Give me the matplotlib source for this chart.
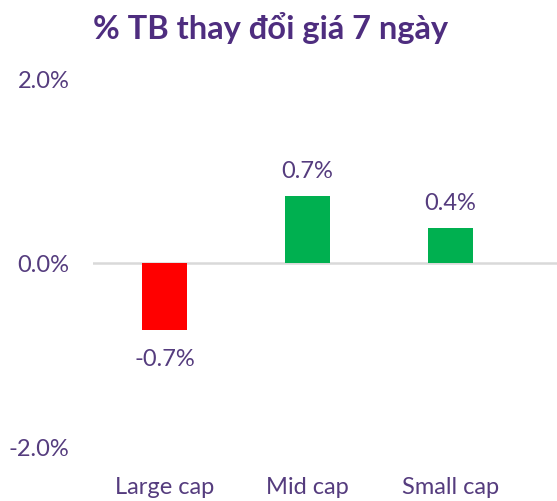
import matplotlib
matplotlib.use("Agg")
import matplotlib.pyplot as plt
from matplotlib.ticker import FuncFormatter

categories = ["Large cap", "Mid cap", "Small cap"]
values = [-0.73, 0.73, 0.38]
labels = ["-0.7%", "0.7%", "0.4%"]
yticks = [-2.0, 0.0, 2.0]

TXT = "#553C7E"
TITLE = "#4E2D7F"
plt.rcParams['font.family'] = ['Lato', 'DejaVu Sans']

fig = plt.figure(figsize=(5.57, 5.02), dpi=100)
ax = fig.add_axes([93/557, 54/502, 1 - 93/557, (448-80)/502])

colors = ["#FF0000" if v < 0 else "#00B050" for v in values]
x = list(range(len(categories)))
bars = ax.bar(x, values, width=0.315, color=colors, zorder=2)

ax.axhline(0, color="#D9D9D9", lw=1.8, zorder=1)
ax.set_xlim(-0.5, 2.745)
ax.set_ylim(-2, 2)
ax.set_yticks(yticks)
ax.yaxis.set_major_formatter(FuncFormatter(lambda v, p: f"{v:.1f}%"))
ax.set_xticks(x)
ax.set_xticklabels(categories)
for s in ax.spines.values():
    s.set_visible(False)
ax.tick_params(axis='both', length=0, colors=TXT, labelsize=17)
ax.tick_params(axis='x', pad=21)
ax.tick_params(axis='y', pad=17)

for b, v, lab in zip(bars, values, labels):
    if v >= 0:
        ax.annotate(lab, (b.get_x() + b.get_width()/2, v), xytext=(0, 11),
                    textcoords="offset points", ha="center", va="bottom",
                    color=TXT, fontsize=17)
    else:
        ax.annotate(lab, (b.get_x() + b.get_width()/2, v), xytext=(0, -13),
                    textcoords="offset points", ha="center", va="top",
                    color=TXT, fontsize=17)

fig.text(0.485, 0.945, "% TB thay đổi giá 7 ngày", ha="center", va="center",
         fontsize=23.5, fontweight="bold", color=TITLE)

fig.savefig("out.png", dpi=100)
